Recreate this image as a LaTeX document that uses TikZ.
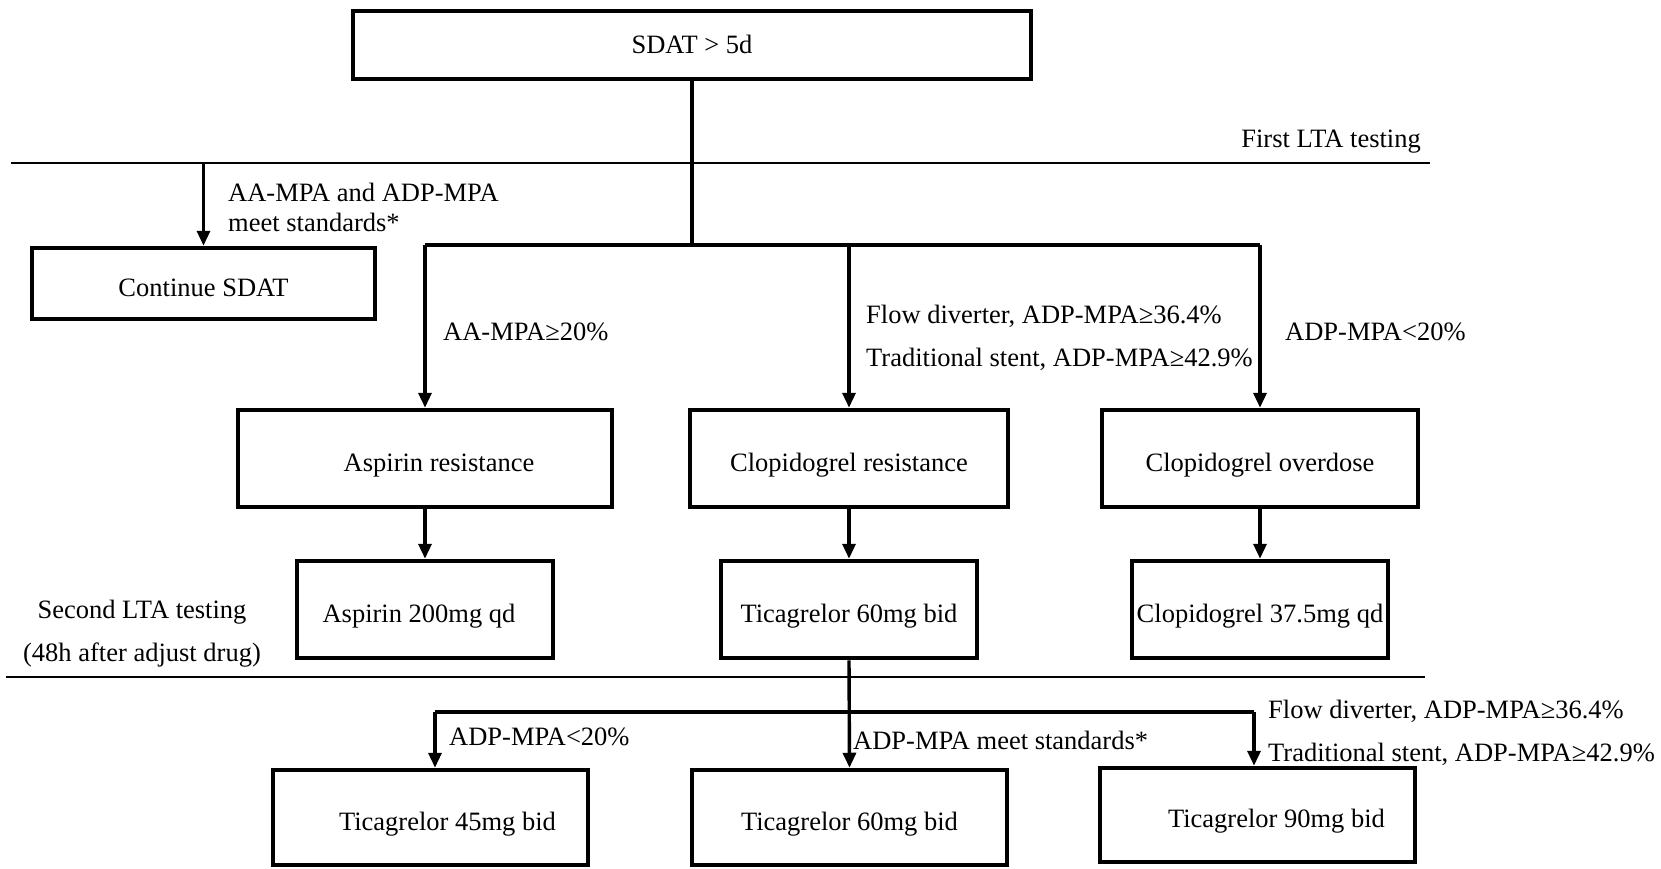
\documentclass[tikz,border=0pt]{standalone}
\usepackage{fontspec}
\setmainfont{Liberation Serif}
\usetikzlibrary{arrows.meta}
\begin{document}
\begin{tikzpicture}[x=1pt,y=-1pt,
  every node/.style={font=\fontsize{26.5}{32}\selectfont, inner sep=0pt},
  box/.style={draw, line width=4.5pt, minimum height=97pt, text height=25pt, text depth=0pt},
  conn/.style={line width=3.4pt},
  arr/.style={conn, -{Triangle[length=15pt,width=13pt]}},
  sep/.style={line width=2.6pt},
  lbl/.style={anchor=west, align=left},
  lbl2/.style={anchor=west, align=left, font=\fontsize{26.5}{43}\selectfont}]
\useasboundingbox (0,0) rectangle (1661,869);

% boxes
\node[box, minimum width=678pt, minimum height=68pt, text height=18pt] (top) at (692,45) {SDAT > 5d};
\node[box, minimum width=343pt, minimum height=71pt] (cont) at (203.5,283.5) {Continue SDAT};
\node[box, minimum width=374pt] (asr) at (425,458.5) {\hspace*{28pt}Aspirin resistance};
\node[box, minimum width=318pt] (clr) at (849,458.5) {Clopidogrel resistance};
\node[box, minimum width=316pt] (cod) at (1260,458.5) {Clopidogrel overdose};
\node[box, minimum width=256pt] (asp) at (425,609.5) {Aspirin 200mg qd\hspace*{12pt}};
\node[box, minimum width=256pt] (ticA) at (849,609.5) {Ticagrelor 60mg bid};
\node[box, minimum width=256pt] (clo) at (1260,609.5) {Clopidogrel 37.5mg qd};
\node[box, minimum width=315pt, minimum height=95pt] (tic45) at (430.5,817.5) {\hspace*{34pt}Ticagrelor 45mg bid};
\node[box, minimum width=315pt, minimum height=95pt] (ticB) at (849.5,817.5) {Ticagrelor 60mg bid};
\node[box, minimum width=315pt, minimum height=94pt] (tic90) at (1257.5,815) {\hspace*{38pt}Ticagrelor 90mg bid};

% stage labels
\node[anchor=east] (first) at (1421,142) {First LTA testing};
\node[align=center, font=\fontsize{26.5}{43}\selectfont] (second) at (142,634) {Second LTA testing\\(48h after adjust drug)};

% separator lines
\coordinate (s1a) at (11,163);
\coordinate (s1b) at (1430,163);
\coordinate (s2a) at (6,677);
\coordinate (s2b) at (1425,677);
\draw[sep] (s1a) -- (s1b);
\draw[sep] (s2a) -- (s2b);

% first level
\coordinate (b1) at (692,245);
\draw[conn] (top.south) -- (b1);
\draw[arr] (cont.north |- s1a) -- (cont.north);
\draw[conn] (asr.north |- b1) -- (cod.north |- b1);
\draw[arr] (asr.north |- b1) -- (asr.north);
\draw[arr] (clr.north |- b1) -- (clr.north);
\draw[arr] (cod.north |- b1) -- (cod.north);

\draw[arr] (asr.south) -- (asp.north);
\draw[arr] (clr.south) -- (ticA.north);
\draw[arr] (cod.south) -- (clo.north);

% second level
\coordinate (b2l) at (435,712);
\coordinate (b2r) at (1254,712);
\draw[conn] (b2l) -- (b2r);
\draw[arr] (ticA.south) -- (ticB.north);
\draw[arr] (b2l) -- (b2l |- tic45.north);
\draw[arr] (b2r) -- (b2r |- tic90.north);

% labels
\node[lbl, font=\fontsize{26.5}{30}\selectfont] (l1) at (228,207) {AA-MPA and ADP-MPA\\meet standards*};
\node[lbl] (l2) at (443,332) {AA-MPA≥20\%};
\node[lbl2] (l3) at (866,337.5) {Flow diverter, ADP-MPA≥36.4\%\\Traditional stent, ADP-MPA≥42.9\%};
\node[lbl] (l4) at (1285,332) {ADP-MPA<20\%};
\node[lbl] (l5) at (449,737) {ADP-MPA<20\%};
\node[lbl] (l6) at (853,740) {ADP-MPA meet standards*};
\node[lbl2] (l7) at (1268,732.5) {Flow diverter, ADP-MPA≥36.4\%\\Traditional stent, ADP-MPA≥42.9\%};
\end{tikzpicture}
\end{document}
